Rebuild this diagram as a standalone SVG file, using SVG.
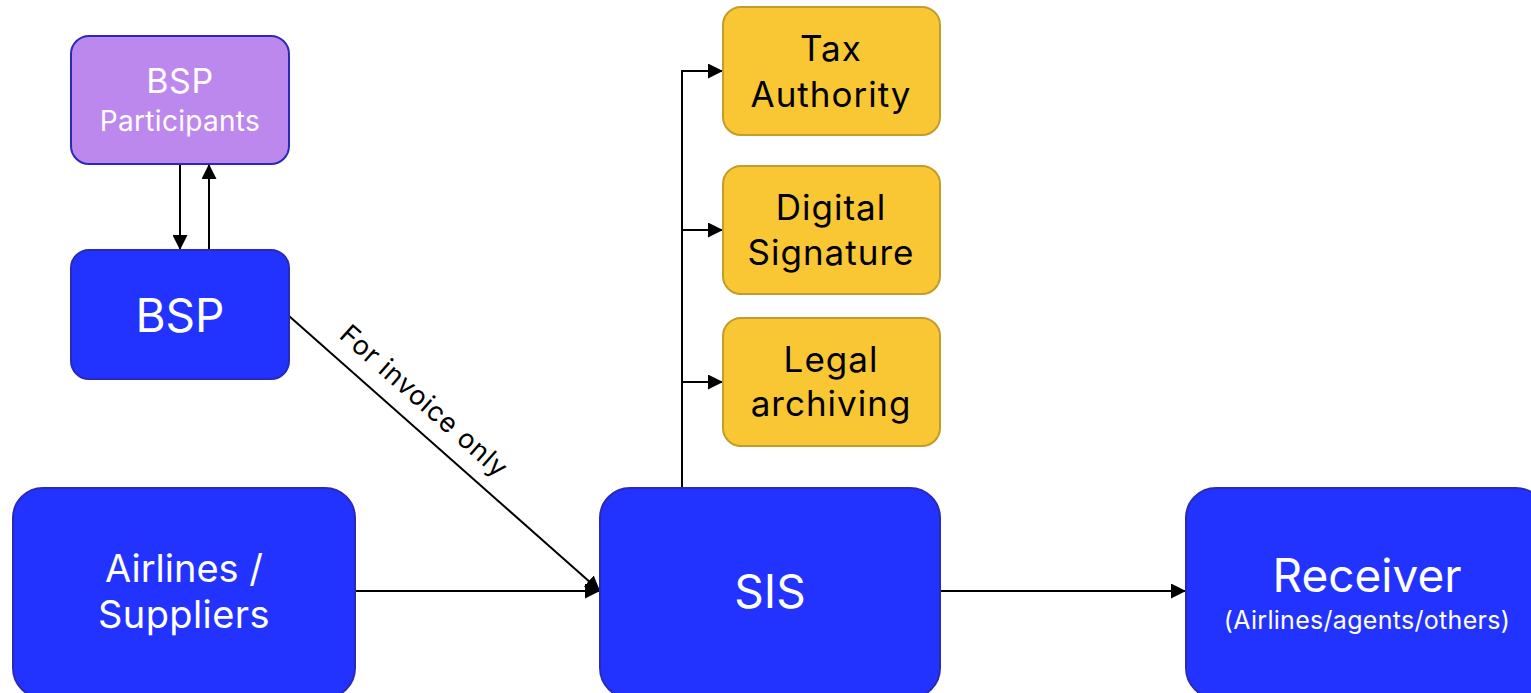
<svg xmlns="http://www.w3.org/2000/svg" width="1531" height="693" viewBox="0 0 1531 693">
<defs>
<marker id="ah" viewBox="0 0 10 10" refX="10" refY="5" markerWidth="15" markerHeight="15" markerUnits="userSpaceOnUse" orient="auto">
<path d="M0,0 L10,5 L0,10 Z" fill="#000"/>
</marker>
<style>
.blue{fill:#2233ff;stroke:#2a2ab8;stroke-width:2}
.lav{fill:#bd88ee;stroke:#2a2ab8;stroke-width:2}
.yel{fill:#f8c733;stroke:#c49b2c;stroke-width:2}
text{font-family:Inter,"Liberation Sans",sans-serif;text-anchor:middle}
.w{fill:#fff}
.k{fill:#000}
.y{font-size:35px;letter-spacing:1px}
.ln{stroke:#000;stroke-width:2;fill:none}
</style>
</defs>
<g id="connectors">
<line class="ln" x1="180" y1="164" x2="180" y2="250" marker-end="url(#ah)"/>
<line class="ln" x1="209" y1="250" x2="209" y2="164" marker-end="url(#ah)"/>
<line class="ln" x1="289" y1="316" x2="600" y2="591" marker-end="url(#ah)"/>
<line class="ln" x1="355" y1="591" x2="600" y2="591" marker-end="url(#ah)"/>
<line class="ln" x1="940" y1="591" x2="1186" y2="591" marker-end="url(#ah)"/>
<polyline class="ln" points="682,488 682,71 723,71" marker-end="url(#ah)"/>
<line class="ln" x1="682" y1="230" x2="723" y2="230" marker-end="url(#ah)"/>
<line class="ln" x1="682" y1="382" x2="723" y2="382" marker-end="url(#ah)"/>
<text class="k" font-size="27" letter-spacing="0.8" transform="translate(418,408) rotate(41.6)">For invoice only</text>
</g>
<g id="bsp-participants">
<rect class="lav" x="71" y="36" width="218" height="128" rx="18"/>
<text class="w" x="180" y="93" font-size="34" letter-spacing="0.5">BSP</text>
<text class="w" x="180" y="131" font-size="28" letter-spacing="0.3">Participants</text>
</g>
<g id="bsp">
<rect class="blue" x="71" y="250" width="218" height="129" rx="18"/>
<text class="w" x="180" y="332" font-size="46">BSP</text>
</g>
<g id="airlines">
<rect class="blue" x="13" y="488" width="342" height="210" rx="30"/>
<text class="w" x="184" y="582" font-size="38">Airlines /</text>
<text class="w" x="184" y="628" font-size="38" letter-spacing="0.4">Suppliers</text>
</g>
<g id="sis">
<rect class="blue" x="600" y="488" width="340" height="210" rx="30"/>
<text class="w" x="770" y="608" font-size="46">SIS</text>
</g>
<g id="receiver">
<rect class="blue" x="1186" y="488" width="360" height="210" rx="30"/>
<text class="w" x="1367" y="592" font-size="46">Receiver</text>
<text class="w" x="1367" y="629" font-size="25" letter-spacing="0.3">(Airlines/agents/others)</text>
</g>
<g id="tax">
<rect class="yel" x="723" y="7" width="217" height="128" rx="18"/>
<text class="k y" x="831" y="61">Tax</text>
<text class="k y" x="831" y="107">Authority</text>
</g>
<g id="digsig">
<rect class="yel" x="723" y="166" width="217" height="128" rx="18"/>
<text class="k y" x="831" y="220">Digital</text>
<text class="k y" x="831" y="265">Signature</text>
</g>
<g id="legal">
<rect class="yel" x="723" y="318" width="217" height="128" rx="18"/>
<text class="k y" x="831" y="372">Legal</text>
<text class="k y" x="831" y="416">archiving</text>
</g>
</svg>
